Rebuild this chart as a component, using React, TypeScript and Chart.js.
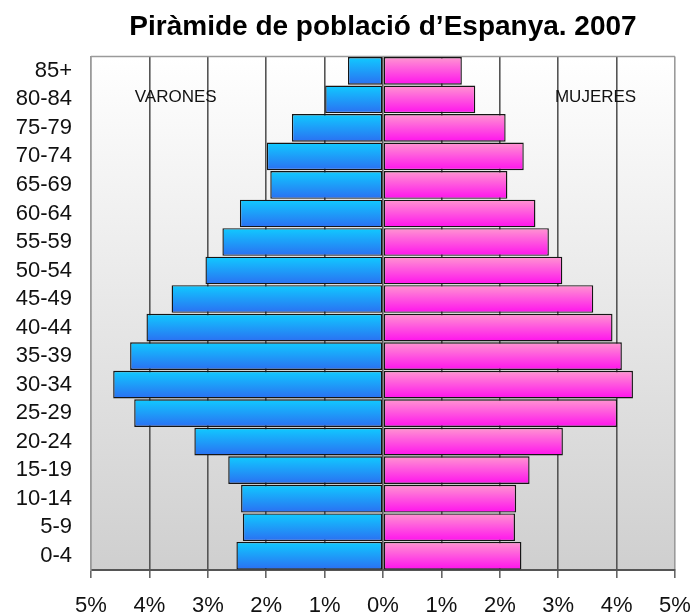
import React, { useEffect, useRef } from "react";
import { Chart, registerables } from "chart.js";

Chart.register(...registerables);

const AGE_GROUPS = [
  "85+", "80-84", "75-79", "70-74", "65-69", "60-64", "55-59", "50-54", "45-49",
  "40-44", "35-39", "30-34", "25-29", "20-24", "15-19", "10-14", "5-9", "0-4",
];
const VARONES = [
  0.60, 0.99, 1.56, 1.99, 1.93, 2.45, 2.75, 3.04, 3.62,
  4.05, 4.33, 4.62, 4.26, 3.23, 2.65, 2.43, 2.40, 2.51,
];
const MUJERES = [
  1.35, 1.58, 2.10, 2.41, 2.13, 2.61, 2.84, 3.07, 3.60,
  3.93, 4.09, 4.28, 4.01, 3.08, 2.51, 2.28, 2.26, 2.37,
];
const X_TICKS = [-5, -4, -3, -2, -1, 0, 1, 2, 3, 4, 5];
const TITLE = "Piràmide de població d’Espanya. 2007";
const LABEL_LEFT = "VARONES";
const LABEL_RIGHT = "MUJERES";

const FONT = "'Liberation Sans', Arial, Helvetica, sans-serif";

function barGradient(top: string, bottom: string) {
  return (ctx: any) => {
    const chart = ctx.chart;
    const area = chart.chartArea;
    const ys = chart.scales && chart.scales.y;
    if (!area || !ys || ctx.type !== "data") return top;
    const yc = ys.getPixelForValue(ctx.dataIndex);
    const h = (area.bottom - area.top) / AGE_GROUPS.length;
    const g = chart.ctx.createLinearGradient(0, yc - h / 2, 0, yc + h / 2);
    g.addColorStop(0, top);
    g.addColorStop(1, bottom);
    return g;
  };
}

const decorPlugin = {
  id: "decor",
  beforeDraw(chart: any) {
    const { ctx, chartArea: a } = chart;
    ctx.save();
    const g = ctx.createLinearGradient(0, a.top, 0, a.bottom);
    g.addColorStop(0, "#ffffff");
    g.addColorStop(1, "#cfcfcf");
    ctx.fillStyle = g;
    ctx.fillRect(a.left, a.top, a.right - a.left, a.bottom - a.top);
    ctx.restore();
  },
  beforeDatasetsDraw(chart: any) {
    const { ctx, chartArea: a, scales } = chart;
    ctx.save();
    ctx.strokeStyle = "#9a9a9a";
    ctx.lineWidth = 1.5;
    ctx.beginPath();
    ctx.moveTo(a.left, a.top);
    ctx.lineTo(a.right, a.top);
    ctx.stroke();
    ctx.fillStyle = "#111";
    ctx.font = `17px ${FONT}`;
    ctx.textAlign = "center";
    ctx.textBaseline = "middle";
    const y = scales.y.getPixelForValue(1) - 2;
    ctx.fillText(LABEL_LEFT, scales.x.getPixelForValue(-3.55), y);
    ctx.fillText(LABEL_RIGHT, scales.x.getPixelForValue(3.64), y);
    ctx.restore();
  },
};

export default function App() {
  const ref = useRef<HTMLCanvasElement | null>(null);

  useEffect(() => {
    if (!ref.current) return;
    const chart = new Chart(ref.current, {
      type: "bar",
      data: {
        labels: AGE_GROUPS,
        datasets: [
          {
            label: "Varones",
            data: VARONES.map((v) => -v),
            backgroundColor: barGradient("#10ccff", "#2b6ef2"),
            borderColor: "#151515",
            borderWidth: 1.4,
            borderSkipped: false,
            categoryPercentage: 1,
            barPercentage: 0.97,
          },
          {
            label: "Mujeres",
            data: MUJERES,
            backgroundColor: barGradient("#ff98d0", "#ff10ee"),
            borderColor: "#151515",
            borderWidth: 1.4,
            borderSkipped: false,
            categoryPercentage: 1,
            barPercentage: 0.97,
          },
        ],
      },
      options: {
        indexAxis: "y",
        responsive: false,
        animation: false,
        layout: { padding: { left: 0, right: 19, top: 0, bottom: 0 } },
        plugins: {
          legend: { display: false },
          tooltip: { enabled: false },
          title: {
            display: true,
            text: TITLE,
            fullSize: false,
            color: "#000",
            font: { family: FONT, size: 28, weight: "bold" },
            padding: { top: 10, bottom: 13 },
          },
        },
        scales: {
          x: {
            type: "linear",
            stacked: true,
            min: -5,
            max: 5,
            afterBuildTicks: (scale: any) => {
              scale.ticks = X_TICKS.map((v) => ({ value: v }));
            },
            afterFit: (scale: any) => {
              scale.height = 44;
              scale.paddingLeft = 0;
              scale.paddingRight = 0;
            },
            ticks: {
              color: "#111",
              font: { family: FONT, size: 22 },
              padding: 15,
              callback: (v: any) => Math.abs(Number(v)) + "%",
            },
            grid: {
              color: (c: any) => (Math.abs(c.tick?.value) === 5 ? "#9a9a9a" : "#555"),
              lineWidth: 1.6,
              drawTicks: true,
              tickLength: 8,
              tickColor: "#666",
            },
            border: { display: true, color: "#555", width: 2 },
          },
          y: {
            stacked: true,
            afterFit: (scale: any) => {
              scale.width = 91;
            },
            ticks: {
              color: "#111",
              font: { family: FONT, size: 22 },
              padding: 19,
              autoSkip: false,
            },
            grid: { display: false, drawTicks: false },
            border: { display: true, color: "#9a9a9a", width: 1.5 },
          },
        },
      },
      plugins: [decorPlugin],
    } as any);
    return () => chart.destroy();
  }, []);

  return (
    <div style={{ position: "fixed", left: 0, top: 0, width: 694, height: 614, background: "#fff" }}>
      <canvas ref={ref} width={694} height={614} style={{ display: "block" }} />
    </div>
  );
}
